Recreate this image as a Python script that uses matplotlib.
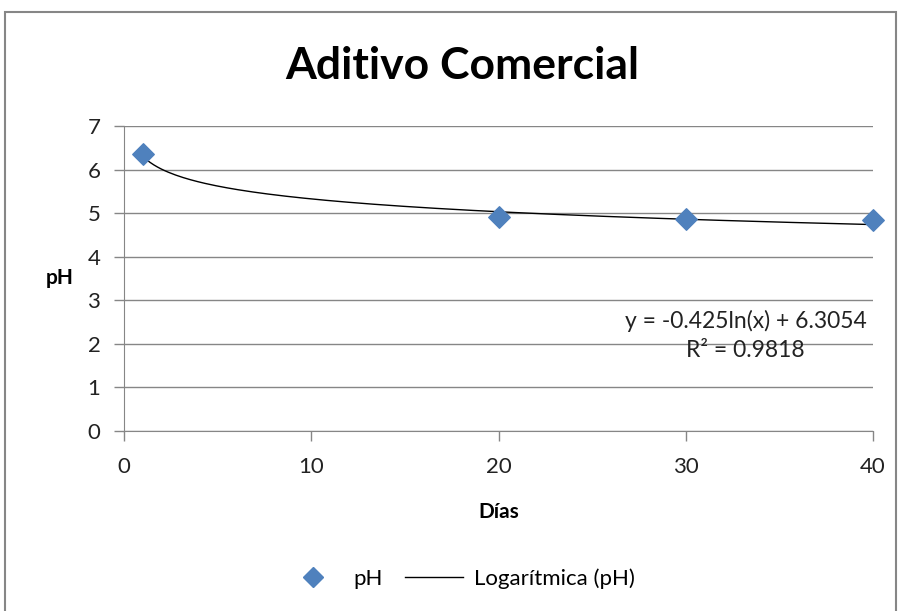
import numpy as np
import matplotlib
matplotlib.use("Agg")
import matplotlib.pyplot as plt
from matplotlib.lines import Line2D
from matplotlib.patches import Rectangle

# data
dias = [1, 20, 30, 40]
ph = [6.35, 4.91, 4.87, 4.84]

# logarithmic trendline coefficients as shown on the chart
slope = -0.425
intercept = 6.3054
r2 = 0.9818

plt.rcParams["font.family"] = ["Lato", "DejaVu Sans"]

fig = plt.figure(figsize=(9.01, 6.11), dpi=100)
fig.patches.append(Rectangle((0.005, -0.01), 0.99, 0.99, transform=fig.transFigure,
                             fill=False, edgecolor="#868686", linewidth=1.5))

ax = fig.add_axes([124 / 901, 1 - 431 / 611, (873 - 124) / 901, (431 - 126) / 611])

xs = np.linspace(min(dias), max(dias), 200)
ax.plot(xs, slope * np.log(xs) + intercept, color="black", linewidth=1, zorder=2)
ax.scatter(dias, ph, marker="D", s=120, color="#4F81BD", zorder=3, clip_on=False)

ax.set_xlim(0, 40)
ax.set_ylim(0, 7)
ax.set_xticks(range(0, 41, 10))
ax.set_yticks(range(0, 8))
ax.grid(axis="y", color="#868686", linewidth=1)
ax.set_axisbelow(True)
for side in ["top", "right"]:
    ax.spines[side].set_visible(False)
for side in ["left", "bottom"]:
    ax.spines[side].set_color("#868686")
ax.tick_params(colors="#868686", labelcolor="#222222", labelsize=16, length=7, width=1)
ax.tick_params(axis="x", pad=12)
ax.tick_params(axis="y", pad=10)

ax.set_xlabel("Días", fontsize=15, fontweight="bold", labelpad=18)
ax.set_ylabel("pH", fontsize=15, fontweight="bold", rotation=0, labelpad=20, va="center")

ax.text(33.2, 2.2, f"y = {slope}ln(x) + {intercept}\nR² = {r2}", fontsize=16.5,
        ha="center", va="center", linespacing=1.45, color="#222222")

fig.suptitle("Aditivo Comercial", fontsize=32, fontweight="bold", x=0.513, y=0.925)

handles = [Line2D([], [], marker="D", color="#4F81BD", linestyle="none", markersize=10),
           Line2D([], [], color="black", linewidth=1)]
fig.legend(handles, ["pH", "Logarítmica (pH)"], loc="center", bbox_to_anchor=(0.51, 0.053),
           ncol=2, frameon=False, fontsize=16, handlelength=2.6, columnspacing=1.0,
           handletextpad=0.5)

fig.savefig("out.png", dpi=100)
